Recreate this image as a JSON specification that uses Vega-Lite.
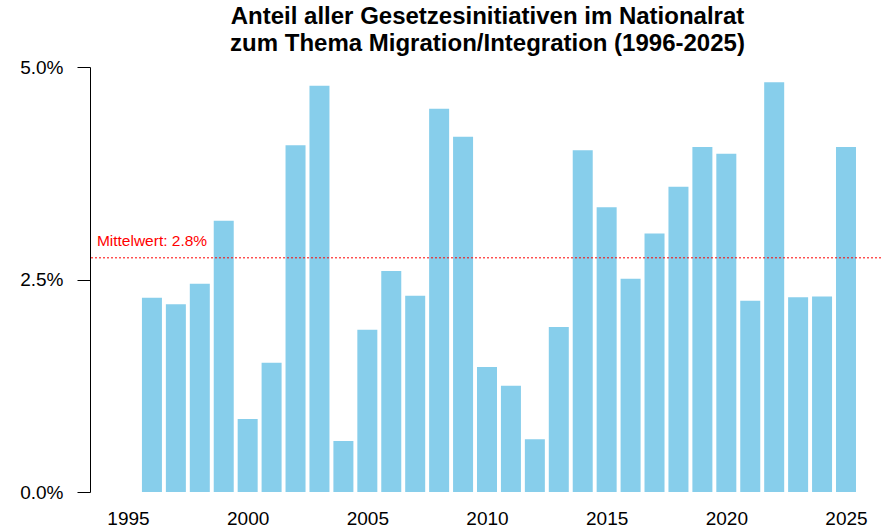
{
  "$schema": "https://vega.github.io/schema/vega-lite/v6.json",
  "width": 791,
  "height": 425,
  "autosize": "none",
  "padding": {"left": 90, "top": 67, "right": 0, "bottom": 39},
  "background": "white",
  "config": {
    "view": {"stroke": null},
    "font": "Liberation Sans"
  },
  "title": {
    "text": ["Anteil aller Gesetzesinitiativen im Nationalrat", "zum Thema Migration/Integration (1996-2025)"],
    "font": "Liberation Sans",
    "fontSize": 24,
    "fontWeight": "bold",
    "color": "black",
    "lineHeight": 27,
    "anchor": "middle",
    "offset": 2,
    "dx": 2
  },
  "datasets": {
    "bars": [
      {"year": 1996, "share": 0.02285},
      {"year": 1997, "share": 0.0221},
      {"year": 1998, "share": 0.0245},
      {"year": 1999, "share": 0.0319},
      {"year": 2000, "share": 0.0086},
      {"year": 2001, "share": 0.0152},
      {"year": 2002, "share": 0.0408},
      {"year": 2003, "share": 0.0478},
      {"year": 2004, "share": 0.0060},
      {"year": 2005, "share": 0.0191},
      {"year": 2006, "share": 0.0260},
      {"year": 2007, "share": 0.0231},
      {"year": 2008, "share": 0.0451},
      {"year": 2009, "share": 0.0418},
      {"year": 2010, "share": 0.0147},
      {"year": 2011, "share": 0.0125},
      {"year": 2012, "share": 0.0062},
      {"year": 2013, "share": 0.0194},
      {"year": 2014, "share": 0.0402},
      {"year": 2015, "share": 0.0335},
      {"year": 2016, "share": 0.0251},
      {"year": 2017, "share": 0.0304},
      {"year": 2018, "share": 0.0359},
      {"year": 2019, "share": 0.0406},
      {"year": 2020, "share": 0.0398},
      {"year": 2021, "share": 0.0225},
      {"year": 2022, "share": 0.0482},
      {"year": 2023, "share": 0.0229},
      {"year": 2024, "share": 0.0230},
      {"year": 2025, "share": 0.0406}
    ],
    "mean": [
      {"year": 1993.7, "share": 0.02755, "label": "Mittelwert: 2.8%"}
    ]
  },
  "layer": [
    {
      "data": {"name": "bars"},
      "mark": {"type": "bar", "width": 20, "color": "#87CEEB"},
      "encoding": {
        "x": {
          "field": "year",
          "type": "quantitative",
          "scale": {"domain": [1993.412, 2026.463], "nice": false, "zero": false, "padding": 0},
          "axis": {
            "title": null,
            "values": [1995, 2000, 2005, 2010, 2015, 2020, 2025],
            "format": "d",
            "grid": false,
            "domain": false,
            "ticks": false,
            "tickSize": 0,
            "labelPadding": 17,
            "labelFontSize": 19,
            "labelColor": "black",
            "labelFont": "Liberation Sans"
          }
        },
        "y": {
          "field": "share",
          "type": "quantitative",
          "scale": {"domain": [0, 0.05], "nice": false},
          "axis": {
            "title": null,
            "values": [0, 0.025, 0.05],
            "format": ".1%",
            "grid": false,
            "domainColor": "black",
            "domainWidth": 1,
            "tickColor": "black",
            "tickWidth": 1,
            "tickSize": 13,
            "labelPadding": 14,
            "labelFontSize": 19,
            "labelColor": "black",
            "labelFont": "Liberation Sans"
          }
        }
      }
    },
    {
      "data": {"name": "mean"},
      "mark": {"type": "rule", "color": "red", "strokeWidth": 1, "strokeDash": [2, 2]},
      "encoding": {
        "y": {"field": "share", "type": "quantitative"}
      }
    },
    {
      "data": {"name": "mean"},
      "mark": {"type": "text", "color": "red", "fontSize": 15.5, "font": "Liberation Sans", "align": "left", "baseline": "alphabetic", "dy": -12},
      "encoding": {
        "x": {"field": "year", "type": "quantitative"},
        "y": {"field": "share", "type": "quantitative"},
        "text": {"field": "label"}
      }
    }
  ]
}
